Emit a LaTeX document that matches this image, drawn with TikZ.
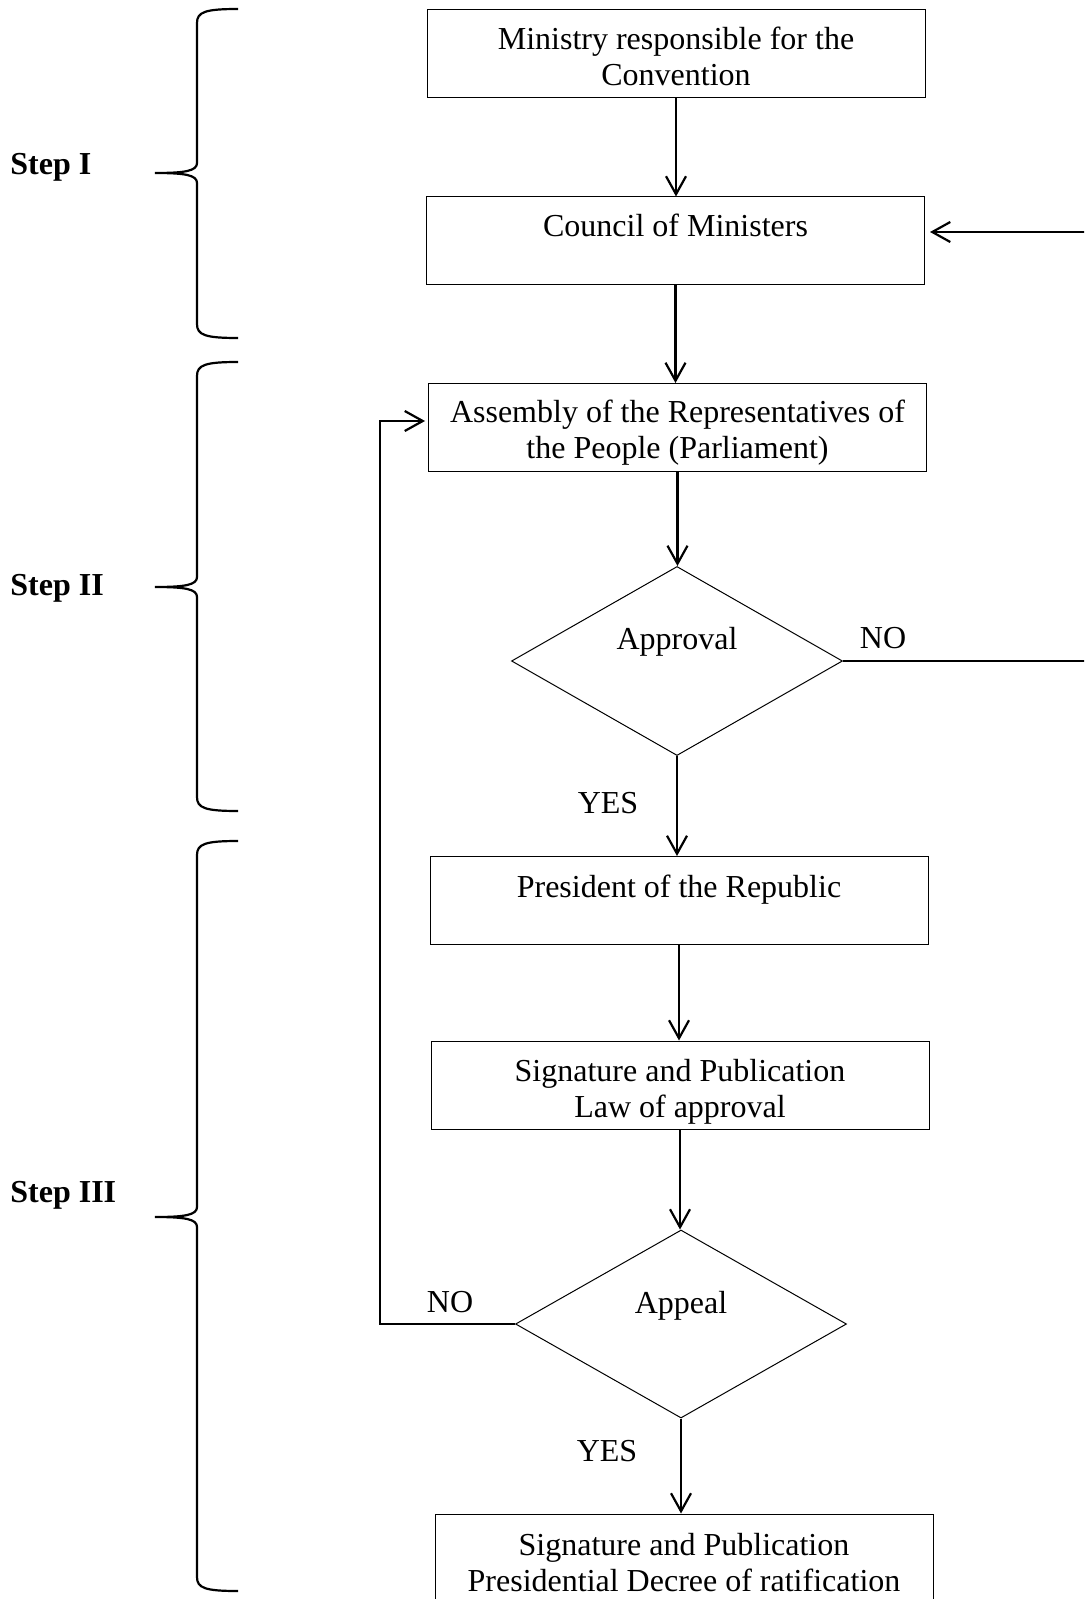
\documentclass[tikz,border=0pt]{standalone}
\usepackage{fontspec}
\setmainfont{Liberation Serif}
\usetikzlibrary{arrows.meta,shapes.geometric}
\newcommand\tup[1]{\rule{0pt}{#1}}
\newcommand\tdn[1]{\rule[-#1]{0pt}{0pt}}
\begin{document}
\begin{tikzpicture}[x=0.5pt,y=-0.5pt,
  every node/.style={font=\fontsize{16}{18}\selectfont},
  box/.style={draw, line width=0.5pt, minimum width=249pt, minimum height=44pt, inner sep=0pt, align=center},
  dec/.style={draw, diamond, line width=0.5pt, inner sep=0pt, align=center, minimum width=165.5pt, minimum height=94pt},
  conn/.style={line width=1.1pt, -{Straight Barb[length=9pt,width=10pt]}},
  plain/.style={line width=1.1pt},
  brc/.style={line width=1.1pt},
  lbl/.style={inner sep=0pt},
  steplbl/.style={inner sep=0pt, anchor=west, font=\fontsize{16}{18}\selectfont\bfseries}
]
\useasboundingbox (0,0) rectangle (1084,1599);
\clip (0,0) rectangle (1084,1599);

% boxes and decisions
\node[box] (b1) at (676,53.5) {\tup{13.9pt}Ministry responsible for the\\Convention};
\node[box] (b2) at (675.5,241) {\tup{13.9pt}Council of Ministers\\\mbox{}};
\node[box] (b3) at (677.5,427.5) {\tup{16.9pt}Assembly of the Representatives of\\the People (Parliament)};
\node[dec] (d1) at (677,661) {Approval\\\tdn{5pt}};
\node[box] (b4) at (679,900.5) {\tup{14.9pt}President of the Republic\\\mbox{}};
\node[box] (b5) at (680,1085) {\tup{17.9pt}Signature and Publication\\Law of approval};
\node[dec] (d2) at (681,1324) {Appeal\\\tdn{4pt}};
\node[box] (b6) at (684,1558) {\tup{15.9pt}Signature and Publication\\Presidential Decree of ratification};

% connectors
\draw[conn] (b1.south) -- (b1.south |- b2.north);
\draw[conn] (b2.south) -- (b2.south |- b3.north);
\draw[conn] (b3.south) -- (b3.south |- d1.north);
\draw[conn] (d1.south) -- (d1.south |- b4.north);
\draw[conn] (b4.south) -- (b4.south |- b5.north);
\draw[conn] (b5.south) -- (b5.south |- d2.north);
\draw[conn] (d2.south) -- (d2.south |- b6.north);

\coordinate (rin) at (1095,232);
\draw[conn, shorten >=2.5pt] (rin) -- (rin -| b2.east);
\coordinate (rout) at (1095,661);
\draw[plain] (d1.east) -- (rout);
\coordinate (fb) at (380,421);
\draw[conn, shorten >=1.5pt] (d2.west) -| (fb) -- (fb -| b3.west);

% labels
\node[lbl] (no1) at (883,638) {NO};
\node[lbl] (yes1) at (608,803) {YES};
\node[lbl] (no2) at (450,1302) {NO};
\node[lbl] (yes2) at (607,1451) {YES};

% braces
\newcommand\mybrace[3]{%
  \draw[brc] (238,#1) .. controls (205,#1) and (197,#1+3) .. (197,#1+14)
    -- (197,#2-10) .. controls (197,#2-2) and (185,#2) .. (155,#2)
    .. controls (185,#2) and (197,#2+2) .. (197,#2+10)
    -- (197,#3-14) .. controls (197,#3-3) and (205,#3) .. (238,#3);}
\mybrace{9}{173}{338}
\mybrace{362}{587}{811}
\mybrace{841}{1217}{1591}

\node[steplbl] (s1) at (10,167) {Step I};
\node[steplbl] (s2) at (10,588) {Step II};
\node[steplbl] (s3) at (10,1195) {Step III};
\end{tikzpicture}
\end{document}
